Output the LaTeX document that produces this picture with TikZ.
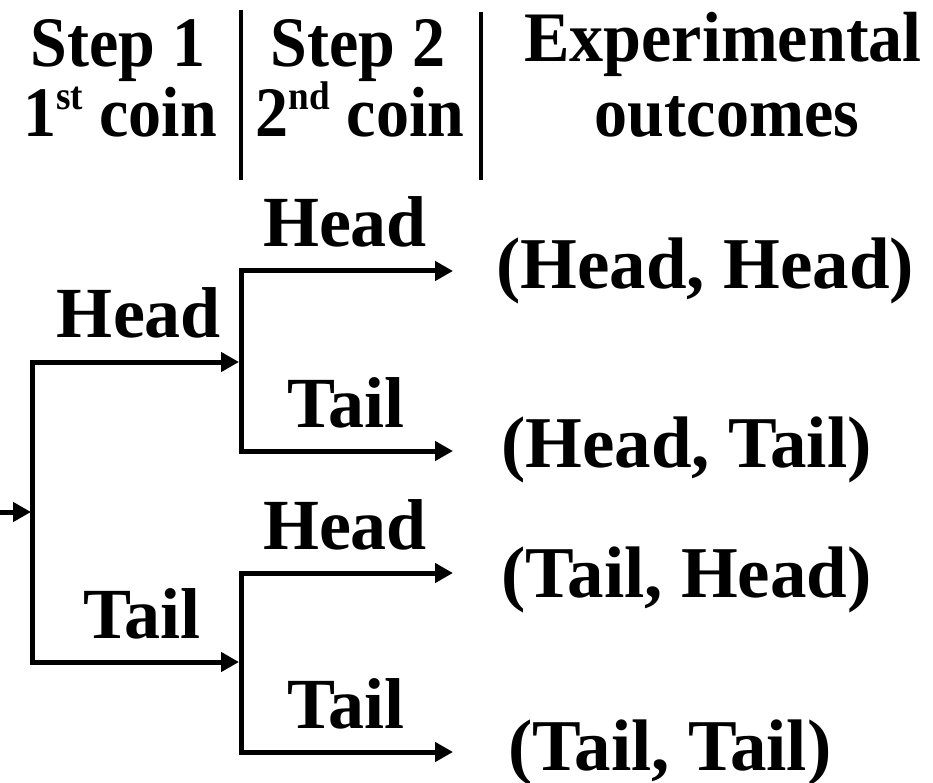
\documentclass[tikz,border=0pt]{standalone}
\usepackage{fontspec}
\setmainfont{Liberation Serif}
\usetikzlibrary{arrows.meta}
\newcommand{\supx}[1]{\raisebox{27pt}{\fontsize{40}{40}\selectfont #1}}
\begin{document}
\begin{tikzpicture}[x=1pt,y=-1pt,
  lbl/.style={inner sep=0pt, font=\bfseries\fontsize{72}{80}\selectfont, anchor=base},
  outc/.style={inner sep=0pt, font=\bfseries\fontsize{73}{80}\selectfont, anchor=base west},
  hdr/.style={inner sep=0pt, font=\bfseries\fontsize{71}{80}\selectfont, anchor=base},
  arr/.style={line width=5pt, -{Triangle[length=18pt,width=19pt]}},
  ln/.style={line width=5pt},
  sep/.style={line width=4.5pt}]
\useasboundingbox (0,0) rectangle (933,783);

% header
\node[hdr] (s1) at (118,67) {\scalebox{0.93}[1]{Step 1}};
\node[hdr] (c1) at (120,137) {\scalebox{0.93}[1]{1\supx{st} coin}};
\node[hdr] (s2) at (358,67) {\scalebox{0.93}[1]{Step 2}};
\node[hdr] (c2) at (360,137) {\scalebox{0.93}[1]{2\supx{nd} coin}};
\node[hdr] (e1) at (723,62) {\scalebox{0.96}[1]{Experimental}};
\node[hdr] (e2) at (727,137) {\scalebox{0.93}[1]{outcomes}};
\coordinate (sepAt) at (241,10);
\coordinate (sepAb) at (241,180);
\coordinate (sepBt) at (481,12);
\coordinate (sepBb) at (481,180);
\draw[sep] (sepAt) -- (sepAb);
\draw[sep] (sepBt) -- (sepBb);

% tree coordinates
\coordinate (start) at (0,512);
\coordinate (j1) at (31,512);
\coordinate (j1t) at (32,362);
\coordinate (j1b) at (32,662);
\coordinate (h1) at (239,362);
\coordinate (t1) at (239,662);
\coordinate (j2t) at (241,271);
\coordinate (j2b) at (241,451);
\coordinate (j3t) at (241,573);
\coordinate (j3b) at (241,752);
\coordinate (hh) at (453,271);
\coordinate (ht) at (453,451);
\coordinate (th) at (453,573);
\coordinate (tt) at (453,752);

\draw[arr] (start) -- (j1);
\draw[ln, line cap=rect] (j1t) -- (j1b);
\draw[arr] (j1t) -- (h1);
\draw[arr] (j1b) -- (t1);
\draw[ln, line cap=rect] (j2t) -- (j2b);
\draw[ln, line cap=rect] (j3t) -- (j3b);
\draw[arr] (j2t) -- (hh);
\draw[arr] (j2b) -- (ht);
\draw[arr] (j3t) -- (th);
\draw[arr] (j3b) -- (tt);

% branch labels
\node[lbl] (l1h) at (139,337) {Head};
\node[lbl] (l1t) at (142,638) {Tail};
\node[lbl] (l2h) at (345,247) {Head};
\node[lbl] (l2t) at (346,427) {Tail};
\node[lbl] (l3h) at (345,549) {Head};
\node[lbl] (l3t) at (346,728) {Tail};

% outcomes
\node[outc] (o1) at (496,288) {(Head, Head)};
\node[outc] (o2) at (501,467) {(Head, Tail)};
\node[outc] (o3) at (501,597) {(Tail, Head)};
\node[outc] (o4) at (508,770) {(Tail, Tail)};
\end{tikzpicture}
\end{document}
